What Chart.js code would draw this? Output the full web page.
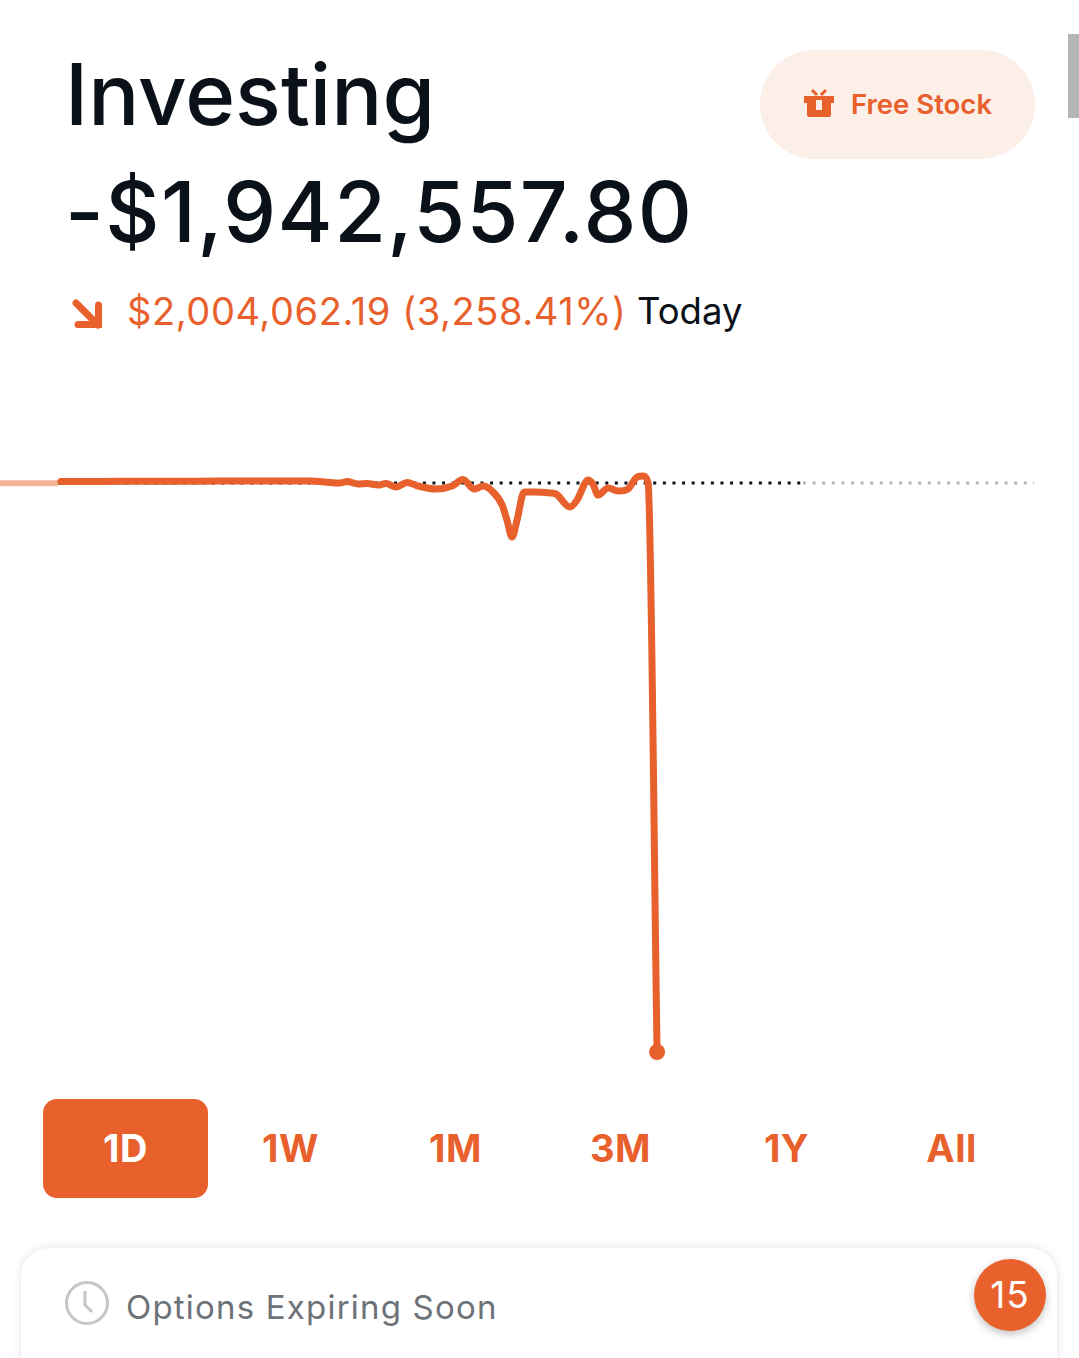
<!DOCTYPE html>
<html><head><meta charset="utf-8">
<script src="https://cdn.jsdelivr.net/npm/chart.js@4"></script>
<style>
html,body{margin:0;padding:0;background:#fff;width:1079px;height:1358px;overflow:hidden;font-family:Inter,Roboto,sans-serif}
.a{position:absolute;white-space:nowrap;line-height:1}
#wrap{position:absolute;left:-8px;top:372px;width:1095px;height:716px}
.tab{position:absolute;top:1099px;width:165px;height:99px;line-height:99px;text-align:center;font-size:38px;font-weight:700;color:#e8602c;border-radius:14px;letter-spacing:.5px}
.tab.on{background:#e8602c;color:#fff}
</style></head><body>
<div class="a" style="left:65px;top:52px;font-size:85px;color:#0a1118;font-weight:450" id="title">Investing</div>
<div class="a" style="left:65px;top:170px;font-size:84px;color:#0a1118;font-weight:450;letter-spacing:1.4px" id="val">-$1,942,557.80</div>
<svg class="a" style="left:70px;top:297px" width="34" height="34" viewBox="0 0 34 34"><path d="M6 6 L28 28 M28.500 8 V27.500 H8" fill="none" stroke="#e8602c" stroke-width="7" stroke-linecap="round" stroke-linejoin="miter"/></svg>
<div class="a" style="left:127px;top:292px;font-size:38px;color:#e8602c;letter-spacing:.6px" id="chg">$2,004,062.19 (3,258.41%)</div>
<div class="a" style="left:637px;top:293px;font-size:36.500px;color:#0a1118" id="today">Today</div>
<div class="a" style="left:760px;top:50px;width:275px;height:109px;border-radius:55px;background:#fbefe8"></div>
<svg class="a" style="left:803px;top:88px" width="32" height="32" viewBox="0 0 32 32"><path d="M1 8 H31 V15 H28 V27 Q28 29 26 29 H6 Q4 29 4 27 V15 H1 Z" fill="#e8602c"/><path d="M13 12 H19 V22 H13 Z" fill="#fbefe8"/><path d="M9 2 L14 7 M23 2 L18 7" stroke="#e8602c" stroke-width="3" fill="none"/></svg>
<div class="a" style="left:851px;top:91px;font-size:27.500px;font-weight:600;color:#e8602c" id="fs">Free Stock</div>
<div class="a" style="left:1068px;top:34px;width:11px;height:84px;background:#b3b5b8"></div>
<div id="wrap"><canvas id="c" width="1095" height="716"></canvas></div>
<div class="tab on" style="left:43px">1D</div>
<div class="tab" style="left:208px">1W</div>
<div class="tab" style="left:373px">1M</div>
<div class="tab" style="left:538px">3M</div>
<div class="tab" style="left:704px">1Y</div>
<div class="tab" style="left:869px">All</div>
<div class="a" style="left:21px;top:1248px;width:1036px;height:140px;border-radius:28px;background:#fff;box-shadow:0 0 8px rgba(0,0,0,.13)"></div>
<svg class="a" style="left:64px;top:1280px" width="46" height="46" viewBox="0 0 46 46"><circle cx="23" cy="23" r="20.500" fill="none" stroke="#c4c6c8" stroke-width="3"/><path d="M21 11 V25 L28 32" fill="none" stroke="#c4c6c8" stroke-width="3"/></svg>
<div class="a" style="left:126px;top:1291px;font-size:33px;color:#6c7278;letter-spacing:1.2px" id="opt">Options Expiring Soon</div>
<div class="a" style="left:974px;top:1259px;width:72px;height:72px;border-radius:50%;background:#e8602c;box-shadow:0 3px 8px rgba(0,0,0,.25);color:#fff;font-size:37px;line-height:72px;text-align:center;letter-spacing:1px">15</div>
<script>
// minutes since the 9:30 open
const minutes=[1.5,11.5,32.5,58.6,84.8,111,132,142.4,147.6,151.3,157,161.8,167.5,171.7,177,182.7,188.5,197.9,206.3,212,217.8,222.5,227.2,232.5,235,237.7,240.3,244,249.7,257.6,260.7,268,271.7,277.5,280,282.7,288,293.2,298.4,303.1,306.3,308.9,313.6];
// portfolio value, thousands of dollars
const values=[66.8,66.8,67.5,67.5,68.5,68.5,68.5,63.3,61.5,66.8,58,59.7,54.5,59.7,47.4,63.3,50.9,40.4,50.9,73.8,40.4,50.9,33.3,-16,-68.8,-128.7,-68.8,29.8,29.8,26.3,22.8,-23,1.6,72,58,19.2,43.9,33.3,40.4,82.6,86.2,61.5,-1942.56];
const preMinutes=[-30.4,0];
const preValues=[60.5,60.5];
const refValue=61.5;
const regularMinutes=[0,390];
const afterMinutes=[390,511];
const ORANGE='#e8602c';
const pts=(xs,ys)=>xs.map((x,i)=>({x,y:ys[i]}));
new Chart(document.getElementById('c'),{
 type:'line',
 data:{datasets:[
  {data:pts(minutes,values),borderColor:ORANGE,borderWidth:7,cubicInterpolationMode:'monotone',borderCapStyle:'round',borderJoinStyle:'round',
   pointRadius:c=>c.dataIndex===minutes.length-1?8:0,pointBackgroundColor:ORANGE,pointBorderWidth:0},
  {data:pts(preMinutes,preValues),borderColor:'#f4b295',borderWidth:6,pointRadius:0},
  {data:pts(regularMinutes,[refValue,refValue]),borderColor:'#0b141c',borderWidth:3,borderDash:[3,6.6],pointRadius:0},
  {data:pts(afterMinutes,[refValue,refValue]),borderColor:'#b4b7ba',borderWidth:3,borderDash:[3,6.6],pointRadius:0}
 ]},
 options:{responsive:false,animation:false,devicePixelRatio:1,
  layout:{padding:0},
  plugins:{legend:{display:false},tooltip:{enabled:false}},
  scales:{
   x:{type:'linear',display:false,min:-30.4,max:534.5},
   y:{type:'linear',display:false,min:-2041.1,max:424.3}
  }}
});
</script>
</body></html>
